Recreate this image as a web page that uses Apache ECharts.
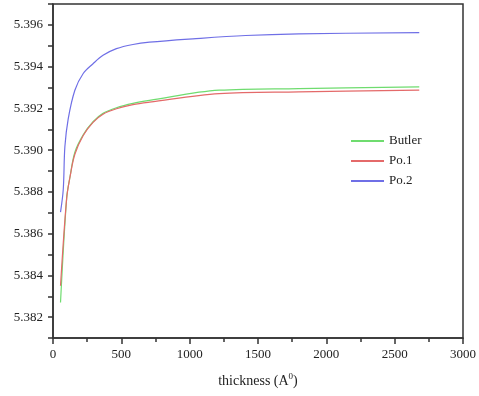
<!DOCTYPE html>
<html>
<head>
<meta charset="utf-8">
<script src="https://cdn.jsdelivr.net/npm/echarts@6/dist/echarts.min.js"></script>
<style>
  html, body { margin: 0; padding: 0; background: #fff; }
  #chart { width: 479px; height: 396px; }
</style>
</head>
<body>
<div id="chart"></div>
<script>
// values: [thickness, lattice value]
const butler = [
  [55, 5.3827], [100, 5.3877], [124, 5.3887], [160, 5.3899], [221, 5.39073],
  [293, 5.39136], [366, 5.39176], [464, 5.39203], [585, 5.39224], [706, 5.39238],
  [1216, 5.39287], [1799, 5.39295], [2680, 5.39303]
];
const po1 = [
  [55, 5.3835], [100, 5.3877], [124, 5.3887], [160, 5.3898], [221, 5.39070],
  [293, 5.39133], [366, 5.39172], [464, 5.39198], [585, 5.39218], [706, 5.39230],
  [1216, 5.39271], [1799, 5.39279], [2680, 5.39287]
];
const po2 = [
  [55, 5.38703], [75, 5.38811], [87, 5.39017], [111, 5.39149], [160, 5.39287],
  [221, 5.39367], [293, 5.39414], [366, 5.39454], [464, 5.39486], [585, 5.39506],
  [706, 5.39517], [1023, 5.39533], [1410, 5.39549], [1799, 5.39557], [2680, 5.39563]
];
const seriesNames = ["Butler", "Po.1", "Po.2"];
const seriesColors = ["#6fdc6f", "#e46a6a", "#6f6fe6"];

const FONT = "Liberation Serif";
const chart = echarts.init(document.getElementById("chart"), null, { renderer: "canvas" });

const mkSeries = (name, data, color) => ({
  name,
  type: "line",
  data,
  smooth: 0.35,
  symbol: "none",
  lineStyle: { color, width: 1.2 },
  itemStyle: { color },
});

const tickStyle = { color: "#333", width: 1.5 };
const labelStyle = { fontFamily: FONT, fontSize: 13, color: "#222" };

chart.setOption({
  backgroundColor: "#fff",
  animation: false,
  grid: {
    left: 53, right: 14, top: 4, bottom: 58,
    show: true, borderColor: "#333", borderWidth: 1.5,
  },
  legend: {
    data: seriesNames,
    orient: "vertical",
    left: 346,
    top: 129,
    itemWidth: 33,
    itemHeight: 2,
    itemGap: 6,
    icon: "rect",
    textStyle: { ...labelStyle, lineHeight: 14 },
  },
  xAxis: {
    type: "value",
    min: 0,
    max: 3000,
    interval: 500,
    name: "{a|thickness (A}{s|0}{a|)}",
    nameLocation: "middle",
    nameGap: 34,
    nameTextStyle: {
      rich: {
        a: { fontFamily: FONT, fontSize: 14, color: "#222" },
        s: { fontFamily: FONT, fontSize: 9, color: "#222", verticalAlign: "bottom", padding: [0, 0, 9, 0] },
      },
    },
    axisLine: { lineStyle: tickStyle },
    axisTick: { length: 6, lineStyle: tickStyle },
    minorTick: { show: true, splitNumber: 2, length: 4, lineStyle: tickStyle },
    axisLabel: { ...labelStyle, margin: 10, formatter: (v) => String(v) },
    splitLine: { show: false },
  },
  yAxis: {
    type: "value",
    min: 5.381,
    max: 5.397,
    interval: 0.001,
    axisLine: { show: true, lineStyle: tickStyle },
    axisTick: { length: 5, lineStyle: tickStyle },
    axisLabel: {
      ...labelStyle, margin: 10,
      formatter: (v) => (Math.round(v * 1000) % 2 === 0 ? v.toFixed(3) : ""),
    },
    splitLine: { show: false },
  },
  series: [
    mkSeries(seriesNames[0], butler, seriesColors[0]),
    mkSeries(seriesNames[1], po1, seriesColors[1]),
    mkSeries(seriesNames[2], po2, seriesColors[2]),
  ],
});
</script>
</body>
</html>
